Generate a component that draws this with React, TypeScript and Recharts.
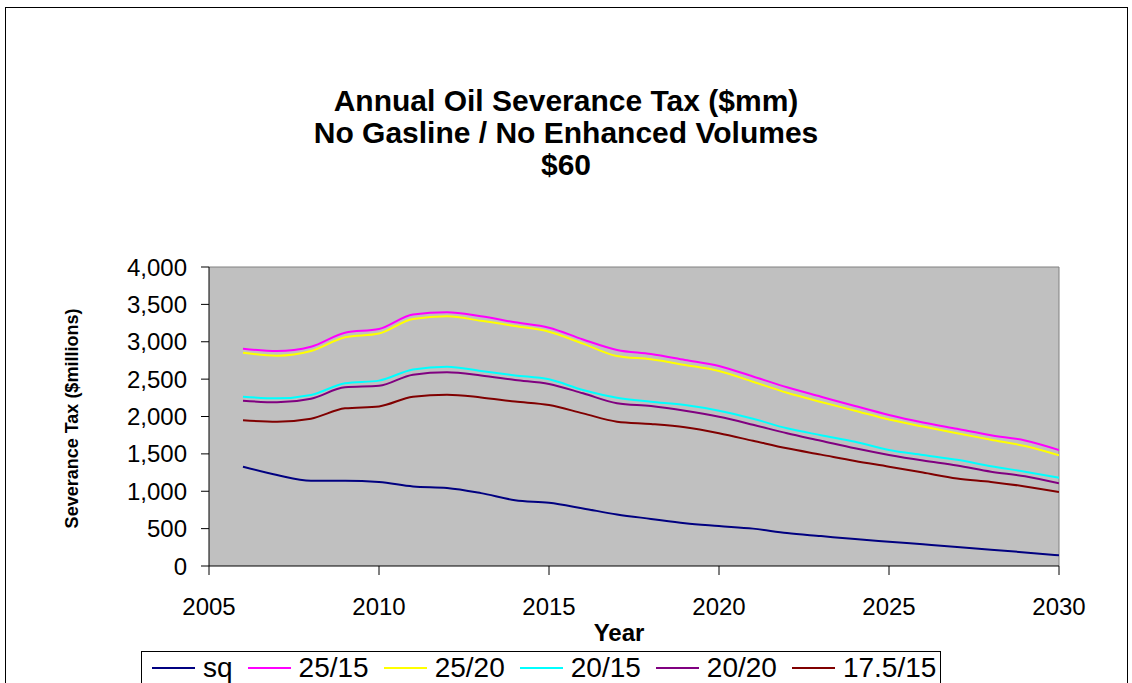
import React from 'react';
import { LineChart, Line, XAxis, YAxis, CartesianGrid, ReferenceLine, Legend } from 'recharts';

const years = [2006, 2007, 2008, 2009, 2010, 2011, 2012, 2013, 2014, 2015, 2016, 2017, 2018, 2019, 2020, 2021, 2022, 2023, 2024, 2025, 2026, 2027, 2028, 2029, 2030];
const sq = [1329, 1217, 1142, 1142, 1125, 1065, 1045, 975, 880, 845, 770, 690, 630, 572, 535, 500, 440, 400, 360, 325, 290, 255, 218, 182, 143];
const s2515 = [2907, 2876, 2934, 3121, 3170, 3365, 3395, 3340, 3260, 3188, 3030, 2890, 2835, 2756, 2676, 2535, 2391, 2265, 2140, 2020, 1920, 1835, 1750, 1680, 1552];
const s2520 = [2854, 2814, 2876, 3059, 3110, 3305, 3340, 3280, 3210, 3135, 2975, 2809, 2765, 2690, 2609, 2465, 2318, 2195, 2078, 1960, 1865, 1775, 1690, 1605, 1481];
const s2015 = [2265, 2243, 2288, 2444, 2480, 2630, 2666, 2610, 2550, 2497, 2354, 2250, 2198, 2154, 2078, 1970, 1842, 1750, 1663, 1552, 1485, 1420, 1335, 1262, 1181];
const s2020 = [2211, 2190, 2238, 2390, 2410, 2560, 2591, 2550, 2488, 2435, 2310, 2177, 2140, 2078, 1997, 1890, 1775, 1675, 1574, 1485, 1410, 1345, 1262, 1200, 1106];
const s17515 = [1949, 1931, 1971, 2109, 2135, 2265, 2292, 2255, 2200, 2154, 2042, 1931, 1900, 1855, 1775, 1675, 1574, 1490, 1405, 1329, 1250, 1170, 1125, 1065, 990];

const xTicks = [2005, 2010, 2015, 2020, 2025, 2030];
const yTicks = [0, 500, 1000, 1500, 2000, 2500, 3000, 3500, 4000];
const titleLines = ['Annual Oil Severance Tax ($mm)', 'No Gasline / No Enhanced Volumes', '$60'];

const seriesDefs = [
  { key: 'sq', name: 'sq', color: '#000080', values: sq },
  { key: 's2515', name: '25/15', color: '#FF00FF', values: s2515 },
  { key: 's2520', name: '25/20', color: '#FFFF00', values: s2520 },
  { key: 's2015', name: '20/15', color: '#00FFFF', values: s2015 },
  { key: 's2020', name: '20/20', color: '#800080', values: s2020 },
  { key: 's17515', name: '17.5/15', color: '#800000', values: s17515 },
];
const seriesOrder = seriesDefs.map((s) => s.name);

const data = years.map((y, i) => {
  const row: any = { year: y };
  seriesDefs.forEach((s) => { row[s.key] = s.values[i]; });
  return row;
});

const FONT = '"Liberation Sans", Arial, sans-serif';

const YTitle = (props: any) => {
  const vb = props.viewBox || { x: 0, y: 0, width: 0, height: 0 };
  const cx = vb.x + 72;
  const cy = vb.y + vb.height / 2 + 2;
  return (
    <text x={cx} y={cy} transform={`rotate(-90 ${cx} ${cy})`} textAnchor="middle" dominantBaseline="central"
      fontFamily={FONT} fontWeight="bold" fontSize={18} fill="#000">Severance Tax ($millions)</text>
  );
};

const XTitle = (props: any) => {
  const vb = props.viewBox || { x: 0, y: 0, width: 0, height: 0 };
  return (
    <text x={vb.x + vb.width / 2 - 15} y={vb.y + 75} textAnchor="middle"
      fontFamily={FONT} fontWeight="bold" fontSize={24} fill="#000">Year</text>
  );
};

const LegendBox = (props: any) => {
  const payload = [...(props.payload || [])].sort(
    (a: any, b: any) => seriesOrder.indexOf(a.value) - seriesOrder.indexOf(b.value)
  );
  return (
    <div style={{ border: '1px solid #000', height: 60, boxSizing: 'border-box', background: '#fff', fontFamily: FONT }}>
      <div style={{ display: 'flex', alignItems: 'center', height: 32, paddingLeft: 10 }}>
        {payload.map((p: any) => (
          <div key={p.value} style={{ display: 'flex', alignItems: 'center', marginRight: 15 }}>
            <span style={{ display: 'inline-block', width: 43, height: 0, borderTop: `2px solid ${p.color}`, marginRight: 8 }} />
            <span style={{ fontSize: 28, lineHeight: '32px', color: '#000' }}>{p.value}</span>
          </div>
        ))}
      </div>
    </div>
  );
};

export default function App() {
  return (
    <div style={{ position: 'absolute', left: 0, top: 0, width: 1132, height: 683, overflow: 'hidden', background: '#fff' }}>
      <div style={{ position: 'absolute', left: 5, top: 7, width: 1123, height: 720, border: '1px solid #000', boxSizing: 'border-box' }} />
      <div style={{ position: 'absolute', left: 0, top: 85, width: 1132, textAlign: 'center', fontFamily: FONT, fontWeight: 'bold', fontSize: 30, lineHeight: '32px', color: '#000' }}>
        {titleLines.map((t) => <div key={t}>{t}</div>)}
      </div>
      <div style={{ position: 'absolute', left: 0, top: 0 }}>
        <LineChart width={1132} height={683} data={data} margin={{ top: 267, right: 73, bottom: 0, left: 0 }}>
          <CartesianGrid fill="#C0C0C0" horizontal={false} vertical={false} />
          <XAxis dataKey="year" type="number" domain={[2005, 2030]} ticks={xTicks} interval={0} height={117}
            tickSize={9} tickMargin={23} axisLine={{ stroke: '#000' }} tickLine={{ stroke: '#000' }}
            tick={{ fontSize: 24, fill: '#000', fontFamily: FONT }} label={<XTitle />} allowDataOverflow />
          <YAxis type="number" domain={[0, 4000]} ticks={yTicks} interval={0} width={209}
            tickSize={8} tickMargin={14} axisLine={{ stroke: '#000' }} tickLine={{ stroke: '#000' }}
            tick={{ fontSize: 24, fill: '#000', fontFamily: FONT }}
            tickFormatter={(v: number) => v.toLocaleString('en-US')} label={<YTitle />} />
          <ReferenceLine y={4000} stroke="#808080" strokeWidth={1} />
          <ReferenceLine x={2030} stroke="#808080" strokeWidth={1} />
          {seriesDefs.map((s) => (
            <Line key={s.key} type="monotone" dataKey={s.key} name={s.name} stroke={s.color} strokeWidth={2}
              dot={false} activeDot={false} isAnimationActive={false} />
          ))}
          <Legend verticalAlign="middle" align="center" layout="horizontal" content={<LegendBox />}
            wrapperStyle={{ left: 141, top: 651, width: 800 }} />
        </LineChart>
      </div>
    </div>
  );
}
